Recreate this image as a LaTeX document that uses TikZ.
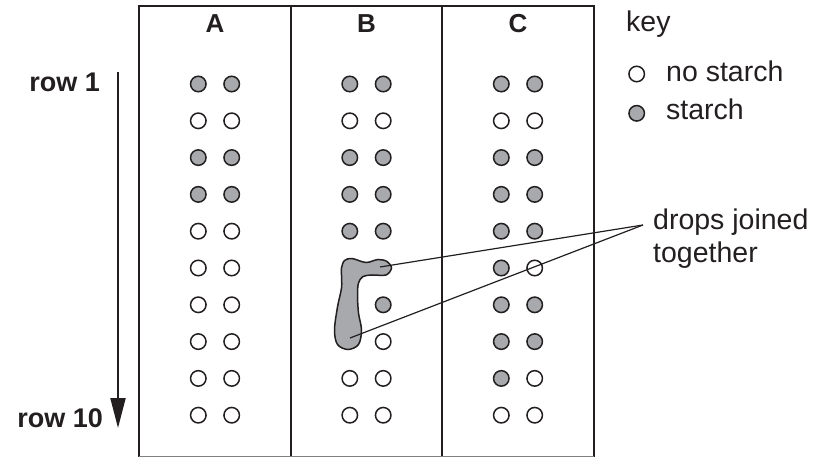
\documentclass[tikz,border=0pt]{standalone}
\usepackage{fontspec}
\setmainfont{Liberation Sans}
\usetikzlibrary{arrows.meta}
\definecolor{starchgrey}{RGB}{167,169,172}
\definecolor{ink}{RGB}{35,31,32}
\begin{document}
\begin{tikzpicture}[x=1pt,y=-1pt,
  frame/.style={draw=ink,line width=2.4pt},
  dot/.style={circle,draw=ink,line width=1.5pt,minimum size=15.5pt,inner sep=0pt,fill=white},
  fdot/.style={dot,fill=starchgrey},
  lbl/.style={font=\fontsize{28.5}{33}\selectfont,text=ink,inner sep=0pt},
  blbl/.style={font=\fontsize{26}{31}\selectfont\bfseries,text=ink,inner sep=0pt},
  rlbl/.style={font=\fontsize{27}{32}\selectfont\bfseries,text=ink,inner sep=0pt},
  leader/.style={draw=ink,line width=1.2pt},
  blob/.style={draw=ink,line width=1.5pt,fill=starchgrey}]
\useasboundingbox (0,0) rectangle (817,457);
% frame
\draw[frame] (139,457) -- (139,6) -- (594,6) -- (594,457);
\draw[frame] (291,6) -- (291,457);
\draw[frame] (442,6) -- (442,457);
\draw[draw=gray,line width=0.8pt] (139,456.5) -- (594,456.5);
% headers
\node[blbl,anchor=base] (hA) at (215,33) {A};
\node[blbl,anchor=base] (hB) at (366.5,33) {B};
\node[blbl,anchor=base] (hC) at (518,33) {C};
% dots: column A
\foreach \r/\l/\rr in {1/1/1,2/0/0,3/1/1,4/1/1,5/0/0,6/0/0,7/0/0,8/0/0,9/0/0,10/0/0}{
  \pgfmathsetmacro{\yy}{84+(\r-1)*36.8}
  \ifnum\l=1 \node[fdot] (A-\r-L) at (198.3,\yy) {};\else \node[dot] (A-\r-L) at (198.3,\yy) {};\fi
  \ifnum\rr=1 \node[fdot] (A-\r-R) at (231.7,\yy) {};\else \node[dot] (A-\r-R) at (231.7,\yy) {};\fi
}
% column C
\foreach \r/\l/\rr in {1/1/1,2/0/0,3/1/1,4/1/1,5/1/1,6/1/0,7/1/1,8/1/1,9/1/0,10/0/0}{
  \pgfmathsetmacro{\yy}{84+(\r-1)*36.8}
  \ifnum\l=1 \node[fdot] (C-\r-L) at (501.3,\yy) {};\else \node[dot] (C-\r-L) at (501.3,\yy) {};\fi
  \ifnum\rr=1 \node[fdot] (C-\r-R) at (534.7,\yy) {};\else \node[dot] (C-\r-R) at (534.7,\yy) {};\fi
}
% column B
\foreach \r/\l/\rr in {1/1/1,2/0/0,3/1/1,4/1/1,5/1/1,9/0/0,10/0/0}{
  \pgfmathsetmacro{\yy}{84+(\r-1)*36.8}
  \ifnum\l=1 \node[fdot] (B-\r-L) at (349.8,\yy) {};\else \node[dot] (B-\r-L) at (349.8,\yy) {};\fi
  \ifnum\rr=1 \node[fdot] (B-\r-R) at (383.2,\yy) {};\else \node[dot] (B-\r-R) at (383.2,\yy) {};\fi
}
\node[fdot] (B-7-R) at (383.2,304.8) {};
\node[dot] (B-8-R) at (383.2,341.6) {};
% blob of joined drops
\draw[blob] plot[smooth cycle,tension=0.55] coordinates {
  (341.5,268) (344.5,260.5) (352,258.5) (366,262.5) (378,259.5) (387,261.5) (391.5,268)
  (386,275) (372,275) (363,276.5) (358.5,283) (357.5,295) (358.5,313) (361.5,330)
  (358.5,344.5) (348,349.5) (337.5,344.5) (334.5,330) (337.5,307) (341.5,288) (341.5,275)};
\coordinate (blobtop) at (380,267);
\coordinate (blobbot) at (350,338);
\coordinate (tip) at (643,225);
% leader lines
\draw[leader] (blobtop) -- (tip);
\draw[leader] (blobbot) -- (tip);
\node[lbl,anchor=base west] (drops1) at (653,230) {drops joined};
\node[lbl,anchor=base west] (drops2) at (653,263) {together};
% key
\node[lbl,anchor=base west] (key) at (626,32) {key};
\node[dot] (keyopen) at (636.7,74) {};
\node[fdot] (keyfill) at (636.7,113.3) {};
\node[lbl,anchor=base west] (nostarch) at (666,82) {no starch};
\node[lbl,anchor=base west] (starch) at (666,120) {starch};
% row arrow
\node[rlbl,anchor=base east] (row1) at (100,92) {row 1};
\node[rlbl,anchor=base east] (row10) at (103,427) {row 10};
\coordinate (arrtop) at (118,72);
\coordinate (arrbot) at (118,428);
\draw[draw=ink,line width=2pt,-{Triangle[length=30pt,width=15pt]}] (arrtop) -- (arrbot);
\end{tikzpicture}
\end{document}
